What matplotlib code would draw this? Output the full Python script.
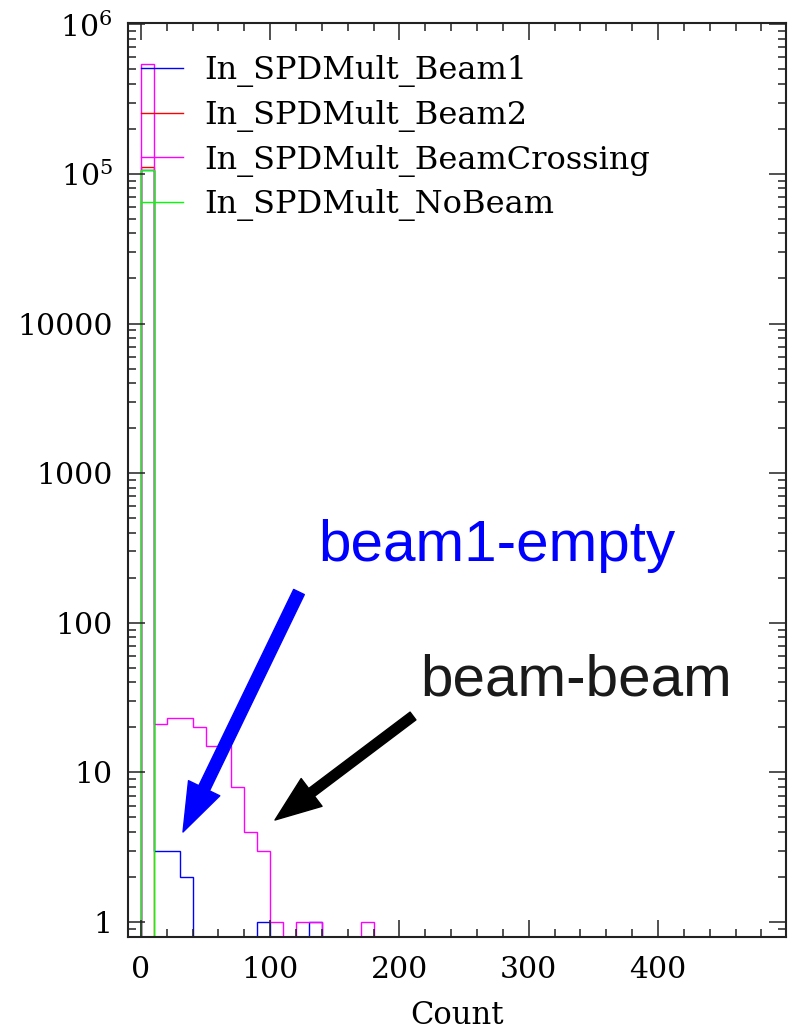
import numpy as np
import matplotlib
matplotlib.use("Agg")
import matplotlib.pyplot as plt
from matplotlib.ticker import MultipleLocator, LogLocator, NullFormatter, FixedLocator, FixedFormatter

# bin edges (Count), width 10
edges = np.arange(0, 510, 10)

# bin contents (first 18 bins, rest empty)
beam1 = [1.07e5, 3, 3, 2, 0, 0, 0, 0, 0, 1, 0, 0, 0, 1, 0, 0, 0, 0]
beam2 = [1.12e5, 0, 0, 0, 0, 0, 0, 0, 0, 0, 0, 0, 0, 0, 0, 0, 0, 0]
crossing = [5.4e5, 21, 23, 23, 20, 15, 15, 8, 4, 3, 1, 0, 1, 1, 0, 0, 0, 1]
nobeam = [1.07e5, 0, 0, 0, 0, 0, 0, 0, 0, 0, 0, 0, 0, 0, 0, 0, 0, 0]

series_names = ["In_SPDMult_Beam1", "In_SPDMult_Beam2",
                "In_SPDMult_BeamCrossing", "In_SPDMult_NoBeam"]
series_colors = ["#0000ff", "#ff0000", "#ff00ff", "#00ff00"]

ytick_vals = [1, 10, 100, 1000, 10000, 1e5, 1e6]
ytick_labels = ["1", "10", "100", "1000", "10000", "$10^{5}$", "$10^{6}$"]

plt.rcParams["font.family"] = ["DejaVu Serif"]
plt.rcParams["mathtext.fontset"] = "dejavuserif"

W, H = 797, 1029
fig = plt.figure(figsize=(W / 100, H / 100), dpi=100)
ax = fig.add_axes([128 / W, 1 - 937 / H, 658 / W, 914 / H])


def full(vals):
    v = np.zeros(len(edges) - 1)
    v[:len(vals)] = vals
    v[v <= 0] = 1e-3
    return v


for vals, name, col in zip([beam1, beam2, crossing, nobeam], series_names, series_colors):
    ax.stairs(full(vals), edges, baseline=1e-3, color=col, lw=1.0, label=name)

ax.set_yscale("log")
ax.set_xlim(-10, 499)
ax.set_ylim(0.794, 1.02e6)

ax.yaxis.set_major_locator(FixedLocator(ytick_vals))
ax.yaxis.set_major_formatter(FixedFormatter(ytick_labels))
ax.yaxis.set_minor_locator(LogLocator(base=10, subs=np.arange(2, 10), numticks=100))
ax.yaxis.set_minor_formatter(NullFormatter())
ax.xaxis.set_major_locator(MultipleLocator(100))
ax.xaxis.set_minor_locator(MultipleLocator(20))

for s in ax.spines.values():
    s.set_linewidth(1.5)
    s.set_color("#222222")
ax.tick_params(which="both", direction="in", top=True, right=True, color="#222222",
               labelsize=21.5)
ax.tick_params(which="major", length=12, width=1.1)
ax.tick_params(which="minor", length=6, width=1.1)
ax.tick_params(axis="x", which="major", pad=14)
ax.tick_params(axis="y", which="major", pad=11)

ax.set_xlabel("Count", fontsize=22, labelpad=11)
ax.set_ylabel("Events", fontsize=22)
ax.yaxis.set_label_coords(-0.19, 0.55)

leg = ax.legend(loc="upper left", bbox_to_anchor=(0.019, 0.965), frameon=False,
                fontsize=23, borderpad=0, borderaxespad=0, handlelength=1.32,
                handletextpad=0.69, labelspacing=0.4)

# annotations (figure pixel positions)
ax.annotate("", xy=(183, H - 832), xytext=(299, H - 592), xycoords="figure pixels",
            textcoords="figure pixels",
            arrowprops=dict(facecolor="#0000ff", edgecolor="#0000ff", width=8.5,
                            headwidth=25, headlength=35, shrink=0))
ax.annotate("", xy=(275, H - 820), xytext=(413, H - 716), xycoords="figure pixels",
            textcoords="figure pixels",
            arrowprops=dict(facecolor="black", edgecolor="black", width=7,
                            headwidth=25, headlength=33, shrink=0))
fig.text(318 / W, 1 - 561 / H, "beam1-empty", color="#0000ff", fontsize=42,
         family="Liberation Sans", ha="left", va="baseline")
fig.text(420 / W, 1 - 695 / H, "beam-beam", color="#1a1a1a", fontsize=42,
         family="Liberation Sans", ha="left", va="baseline")

fig.savefig("out.png", dpi=100)
